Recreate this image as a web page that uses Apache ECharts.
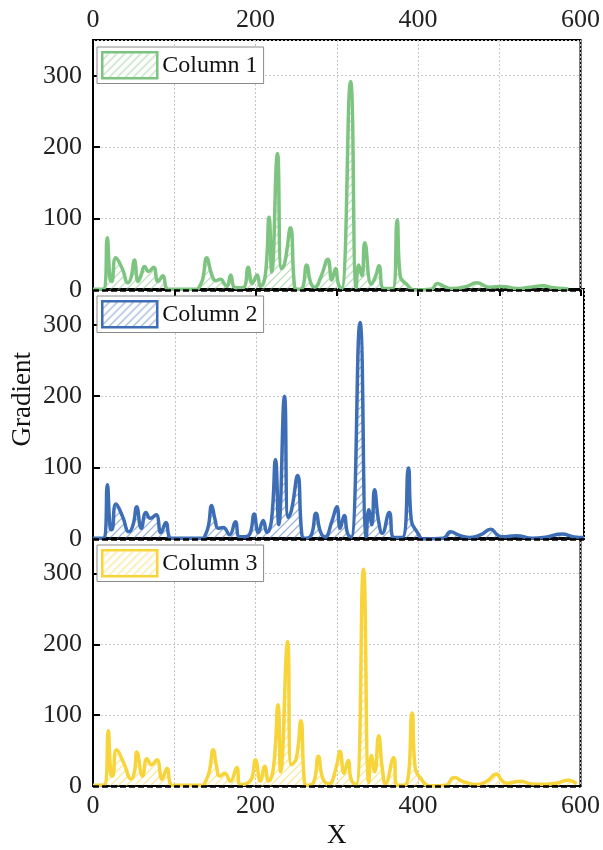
<!DOCTYPE html>
<html>
<head>
<meta charset="utf-8">
<script src="https://cdn.jsdelivr.net/npm/echarts@6/dist/echarts.min.js"></script>
<style>
  html, body { margin: 0; padding: 0; background: #fff; }
  #chart { width: 603px; height: 850px; }
</style>
</head>
<body>
<div id="chart"></div>
<script>
// Series names and colours
const seriesNames = ['Column 1', 'Column 2', 'Column 3'];
const seriesColors = ['#7cc47f', '#3d6db4', '#f7d43a'];

// Axis tick labels
const xTicks = [0, 200, 400, 600];
const yTicks = [0, 100, 200, 300];

// Column 1
const x1 = [0, 14, 17.5, 21, 23, 28, 36, 43, 47, 51, 55.5, 59, 63.5, 68.5, 74.5, 80, 86, 90, 93,
  128, 131, 135, 140, 146, 151, 157, 162, 165, 169.5, 174, 180, 186, 191, 196, 202, 206, 212,
  216.7, 220, 227, 232, 236, 243, 248, 251, 257, 263, 268, 273, 281, 289, 294, 298.6, 302, 306,
  317, 324, 327, 331, 334.5, 342.6, 348, 352, 358, 369, 374.3, 378, 386, 395.5, 416, 424, 432,
  442, 460, 472, 488, 504, 522, 538, 554, 566, 579, 585];
const y1 = [1, 2, 73, 15, 12, 45, 30, 10, 18, 42, 12, 20, 33, 26, 32, 12, 20, 3, 1,
  1, 5, 15, 45, 22, 13, 15, 8, 5, 21, 4, 3, 4, 32, 9, 21, 5, 20,
  102, 25, 191, 30, 38, 87, 5, 1, 2, 35, 10, 4, 20, 43, 14, 30, 8, 2,
  292, 3, 35, 20, 66, 8, 20, 34, 2, 2, 98, 20, 8, 0, 1, 9, 5,
  2, 5, 10, 4, 5, 2, 4, 6, 3, 2, 1];

// Column 2
const x2 = [0, 14, 17.5, 21, 23, 28, 36, 44, 49, 53.4, 59, 64.8, 70, 77, 83, 89, 93, 96,
  134, 137, 141, 145, 149, 153, 159, 167, 174, 179, 186, 192, 197, 202, 208, 212.5, 218,
  223, 227, 234, 238.5, 242.5, 250, 255, 258, 266, 272.5, 278, 283.6, 292, 298, 302, 307, 311,
  315.5, 326.3, 334, 337, 340.7, 344, 349, 353.5, 362, 368, 378, 385.4, 389, 396, 404, 428,
  437, 448, 461, 474, 486, 494, 500.5, 517, 537, 555, 573, 588, 600];
const y2 = [1, 2, 76, 15, 13, 49, 32, 10, 20, 45, 15, 37, 29, 34, 9, 23, 3, 1,
  1, 5, 18, 47, 28, 15, 16, 6, 24, 3, 3, 8, 35, 9, 26, 9, 25,
  111, 20, 200, 30, 40, 89, 8, 1, 4, 36, 10, 3, 25, 45, 15, 33, 8,
  2, 303, 3, 41, 20, 69, 25, 8, 37, 2, 2, 99.5, 26, 10, 0, 1,
  10, 5, 2, 6, 13.6, 6, 3, 4.5, 1, 3, 7, 3, 2];

// Column 3
const x3 = [0, 15, 18.7, 22, 24, 29, 38, 47, 51, 54, 61, 66.4, 72, 78.6, 85, 91, 95, 98,
  135, 138, 143, 148, 152, 156, 162, 169, 177, 181, 188, 195, 200, 206, 211.4, 216, 222,
  227.7, 231, 239.5, 244, 250, 255.8, 260, 263, 271, 277.4, 283, 290.5, 299, 304, 309, 314, 318,
  324, 332.8, 339.5, 342.6, 346.7, 351.6, 356, 360, 370, 374, 385, 392.7, 396.5, 404, 414, 434,
  444.5, 456, 473, 485, 496.6, 503, 509, 526, 540, 554.5, 570, 585, 595];
const y3 = [1, 2, 78, 16, 14, 51, 32, 10, 20, 48, 14, 38.5, 30, 37, 9.6, 25, 3, 1,
  1, 5, 20, 51, 28, 14, 18, 6.6, 26, 2, 3, 10, 37, 7, 28, 7, 25,
  114.5, 20, 204, 30, 38, 92, 8, 1, 4, 42, 10, 3, 25, 49, 18, 36, 8,
  2, 306, 5, 43, 20, 71, 25, 3, 40, 1, 2, 103, 26, 10, 0, 1,
  12, 6, 2, 7, 17, 8, 4, 6.6, 3, 2.6, 4, 8, 3];

const xs = [x1, x2, x3];
const ys = [y1, y2, y3];

const FONT = '"Liberation Serif", "Times New Roman", serif';
const gridTops = [40, 289, 538];
const gridHeight = 250;

// Diagonal hatch used for the area fill and legend swatches
function hatch(color) {
  const c = document.createElement('canvas');
  c.width = 8; c.height = 8;
  const g = c.getContext('2d');
  g.strokeStyle = color;
  g.globalAlpha = 0.5;
  g.lineWidth = 1.3;
  g.beginPath();
  g.moveTo(0, 8); g.lineTo(8, 0);
  g.moveTo(-2, 2); g.lineTo(2, -2);
  g.moveTo(6, 10); g.lineTo(10, 6);
  g.stroke();
  return { image: c, repeat: 'repeat' };
}

const chart = echarts.init(document.getElementById('chart'), null, { renderer: 'canvas' });

const grid = [], xAxis = [], yAxis = [], series = [], legend = [];

for (let i = 0; i < 3; i++) {
  grid.push({
    left: 93, right: 19, top: gridTops[i], height: gridHeight,
    show: true, borderColor: '#000', borderWidth: 2, backgroundColor: 'transparent'
  });
  const isTop = i === 0, isBottom = i === 2;
  xAxis.push({
    type: 'value', gridIndex: i, min: 0, max: 600, interval: 100,
    position: isTop ? 'top' : 'bottom',
    name: isBottom ? 'X' : '',
    nameLocation: 'middle', nameGap: 36,
    nameTextStyle: { fontFamily: FONT, fontSize: 27, color: '#111' },
    axisLine: { show: true, lineStyle: { color: '#000', width: 2 } },
    axisTick: { show: isTop, inside: true, length: 6, lineStyle: { color: '#000', width: 2 } },
    axisLabel: {
      show: isTop || isBottom, margin: 7,
      fontFamily: FONT, fontSize: 26, color: '#222',
      formatter: v => (xTicks.indexOf(v) >= 0 ? String(v) : '')
    },
    splitLine: { show: true, lineStyle: { color: '#c8c8c8', type: [2, 2], width: 1 } }
  });
  yAxis.push({
    type: 'value', gridIndex: i, min: 0, max: 350, interval: 100,
    axisLine: { show: true, lineStyle: { color: '#000', width: 2 } },
    axisTick: { show: true, inside: true, length: 7, lineStyle: { color: '#000', width: 2 } },
    axisLabel: {
      margin: 11, fontFamily: FONT, fontSize: 26, color: '#222',
      showMaxLabel: false,
      formatter: v => (yTicks.indexOf(v) >= 0 ? String(v) : '')
    },
    splitLine: { show: true, lineStyle: { color: '#c8c8c8', type: [2, 2], width: 1 } }
  });
  const pts = xs[i].map((x, k) => [x, ys[i][k]]);
  series.push({
    name: seriesNames[i], type: 'line', xAxisIndex: i, yAxisIndex: i,
    data: pts, smooth: 0.5, symbol: 'none',
    lineStyle: { color: seriesColors[i], width: 3.5 },
    itemStyle: { color: seriesColors[i] },
    areaStyle: { color: hatch(seriesColors[i]), opacity: 1 },
    markLine: {
      silent: true, symbol: 'none', animation: false,
      label: { show: false },
      lineStyle: { color: '#000', type: [6, 3], width: 2.5 },
      data: [{ yAxis: 0 }]
    },
    animation: false
  });
  legend.push({
    data: [{
      name: seriesNames[i],
      itemStyle: { color: hatch(seriesColors[i]), borderColor: seriesColors[i], borderWidth: 2.5 }
    }],
    icon: 'rect', left: 97, top: gridTops[i] + 7,
    itemWidth: 55, itemHeight: 26, itemGap: 6,
    padding: [4, 6, 4, 4],
    backgroundColor: '#fff', borderColor: '#8a8a8a', borderWidth: 1, borderRadius: 0,
    textStyle: { fontFamily: FONT, fontSize: 24, color: '#111', padding: [0, 0, 0, 0] },
    selectedMode: false
  });
}

chart.setOption({
  backgroundColor: '#fff',
  animation: false,
  grid, xAxis, yAxis, series, legend,
  graphic: [{
    type: 'text', left: 9, top: 352, rotation: Math.PI / 2,
    style: { text: 'Gradient', fontFamily: FONT, fontSize: 27, fill: '#111' }
  }]
});
</script>
</body>
</html>
